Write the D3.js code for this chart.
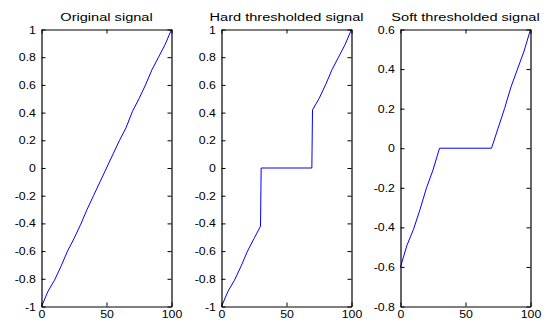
<!DOCTYPE html>
<html>
<head>
<meta charset="utf-8">
<script src="https://cdn.jsdelivr.net/npm/d3@7"></script>
<style>
  body { margin: 0; background: #fff; }
  text { font-family: "Liberation Sans", Arial, sans-serif; }
</style>
</head>
<body>
<div class="chart"></div>
<script>
// Data
const titles = ['Original signal', 'Hard thresholded signal', 'Soft thresholded signal'];

const origX = [0, 5, 10, 15, 20, 25, 30, 35, 40, 45, 50, 55, 60, 65, 70, 75, 80, 85, 90, 95, 100];
const origY = [-1, -0.89, -0.81, -0.71, -0.6, -0.51, -0.41, -0.3, -0.2, -0.1, 0, 0.1, 0.2, 0.29, 0.41, 0.5, 0.6, 0.71, 0.8, 0.89, 1];

const hardX = [0, 5, 10, 15, 20, 25, 30, 30.5, 69.5, 70, 75, 80, 85, 90, 95, 100];
const hardY = [-1, -0.89, -0.81, -0.71, -0.6, -0.51, -0.42, 0, 0, 0.42, 0.5, 0.6, 0.71, 0.8, 0.89, 1];

const softX = [0, 5, 10, 15, 20, 25, 30, 70, 75, 80, 85, 90, 95, 100];
const softY = [-0.6, -0.49, -0.41, -0.31, -0.2, -0.11, 0, 0, 0.1, 0.2, 0.31, 0.4, 0.49, 0.6];

const xTicks = [0, 50, 100];
const yTicksA = [-1, -0.8, -0.6, -0.4, -0.2, 0, 0.2, 0.4, 0.6, 0.8, 1];
const yTicksB = [-0.8, -0.6, -0.4, -0.2, 0, 0.2, 0.4, 0.6];

const panels = [
    { title: titles[0], xs: origX, ys: origY, yDomain: [-1, 1], yTicks: yTicksA },
    { title: titles[1], xs: hardX, ys: hardY, yDomain: [-1, 1], yTicks: yTicksA },
    { title: titles[2], xs: softX, ys: softY, yDomain: [-0.8, 0.6], yTicks: yTicksB }
];

// Dimensions
const dimensions = {
    width: 546,
    height: 322,
    lefts: [41.5, 221.5, 400.5],
    plotWidth: 130,
    top: 29.5,
    bottom: 306.5
};

const fmt = d => String(+d.toFixed(1));

const svg = d3.select('.chart')
    .append('svg')
    .attr('width', dimensions.width)
    .attr('height', dimensions.height);

panels.forEach((p, i) => {
    const left = dimensions.lefts[i];
    const right = left + dimensions.plotWidth;

    const xScale = d3.scaleLinear().domain([0, 100]).range([left, right]);
    const yScale = d3.scaleLinear().domain(p.yDomain).range([dimensions.bottom, dimensions.top]);

    const g = svg.append('g');

    // Line
    const line = d3.line()
        .x(d => xScale(d[0]))
        .y(d => yScale(d[1]));

    g.append('path')
        .datum(p.xs.map((x, j) => [x, p.ys[j]]))
        .attr('fill', 'none')
        .attr('stroke', '#0000ff')
        .attr('stroke-width', 1)
        .attr('d', line);

    // Axes (ticks inside, MATLAB-style box)
    const bottomAxis = d3.axisBottom(xScale).tickValues(xTicks).tickFormat(fmt)
        .tickSizeInner(-4).tickSizeOuter(0).tickPadding(4);
    const topAxis = d3.axisTop(xScale).tickValues(xTicks).tickFormat('')
        .tickSizeInner(-4).tickSizeOuter(0);
    const leftAxis = d3.axisLeft(yScale).tickValues(p.yTicks).tickFormat(fmt)
        .tickSizeInner(-4).tickSizeOuter(0).tickPadding(5);
    const rightAxis = d3.axisRight(yScale).tickValues(p.yTicks).tickFormat('')
        .tickSizeInner(-4).tickSizeOuter(0);

    const axes = [
        [bottomAxis, `translate(0,${dimensions.bottom})`],
        [topAxis, `translate(0,${dimensions.top})`],
        [leftAxis, `translate(${left},0)`],
        [rightAxis, `translate(${right},0)`]
    ];

    axes.forEach(([axis, tr]) => {
        const a = g.append('g').attr('transform', tr).call(axis);
        a.select('.domain').attr('stroke', '#000').attr('stroke-width', 1.2);
        a.selectAll('.tick line').attr('stroke', '#000');
        a.selectAll('.tick text')
            .attr('fill', '#000')
            .attr('transform', 'scale(1.12,1)')
            .style('font-family', '"Liberation Sans", Arial, sans-serif')
            .style('font-size', '11px');
    });

    // Title
    g.append('text')
        .attr('transform', `translate(${(left + right) / 2},20.5) scale(1.27,1)`)
        .attr('text-anchor', 'middle')
        .style('font-size', '11.5px')
        .text(p.title);
});
</script>
</body>
</html>
